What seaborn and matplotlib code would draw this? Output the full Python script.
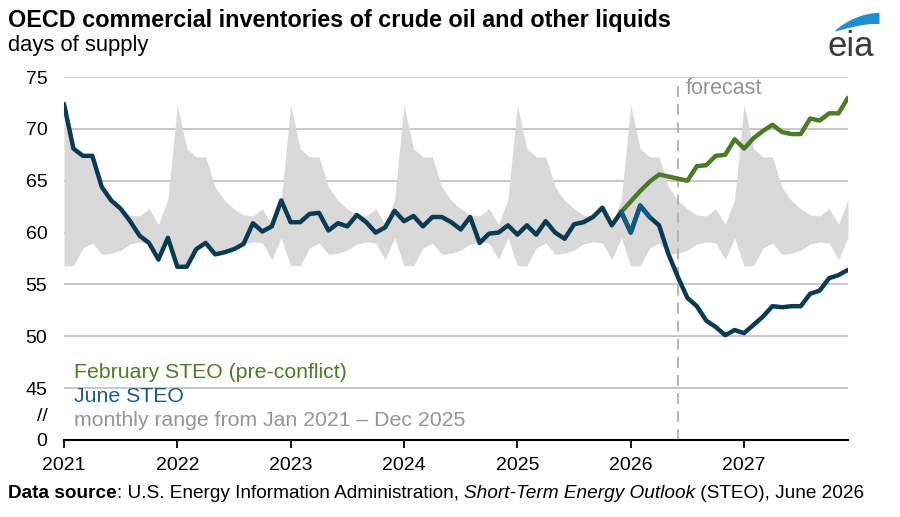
import numpy as np
import pandas as pd
import matplotlib
matplotlib.use("Agg")
import matplotlib.pyplot as plt
import seaborn as sns

# ---------------- data ----------------
years = [2021, 2022, 2023, 2024, 2025, 2026, 2027]
year_labels = ["2021", "2022", "2023", "2024", "2025", "2026", "2027"]

june_steo = [
    72.4, 68.1, 67.4, 67.4, 64.4, 63.1, 62.3, 61.1, 59.7, 59.0, 57.4, 59.5,  # 2021
    56.7, 56.7, 58.4, 59.0, 57.9, 58.1, 58.4, 58.9, 60.9, 60.1, 60.6, 63.1,  # 2022
    61.0, 61.0, 61.8, 61.9, 60.2, 60.9, 60.6, 61.7, 61.0, 60.0, 60.5, 62.1,  # 2023
    61.1, 61.6, 60.6, 61.5, 61.5, 61.0, 60.3, 61.5, 59.0, 59.9, 60.0, 60.7,  # 2024
    59.8, 60.7, 59.8, 61.1, 60.0, 59.4, 60.8, 61.0, 61.5, 62.4, 60.7, 62.0,  # 2025
    60.0, 62.6, 61.5, 60.7, 57.9, 55.7, 53.7, 52.9, 51.5, 50.9, 50.1, 50.6,  # 2026
    50.3, 51.1, 51.9, 52.9, 52.8, 52.9, 52.9, 54.1, 54.4, 55.6, 55.9, 56.4,  # 2027
]

# February STEO from Dec 2025 to Dec 2027
feb_start_index = 59
feb_steo = [62.0, 63.0, 64.0, 64.9, 65.6, 65.4, 65.2, 65.0, 66.4, 66.5, 67.4, 67.5,
            69.0, 68.1, 69.1, 69.8, 70.4, 69.7, 69.5, 69.5, 71.0, 70.8, 71.5, 71.5, 73.0]

# monthly range Jan 2021 - Dec 2025 (Jan..Dec)
range_max = [72.3, 68.1, 67.3, 67.3, 64.4, 63.1, 62.3, 61.7, 61.6, 62.3, 60.8, 63.2]
range_min = [56.8, 56.8, 58.5, 59.0, 57.9, 58.0, 58.3, 58.9, 59.1, 59.0, 57.4, 59.5]

forecast_start = (2026, 6)  # June 2026
light_segment = (59, 62)

y_ticks = [40, 42.5, 45, 50, 55, 60, 65, 70, 75]
y_tick_labels = ["0", "//", "45", "50", "55", "60", "65", "70", "75"]
grid_values = [45, 50, 55, 60, 65, 70, 75]

# ---------------- frame ----------------
n = len(june_steo)
xs = [years[0] + i / 12 for i in range(n)]
months_per_year = len(range_max)
band_hi = [range_max[i % months_per_year] for i in range(n)]
band_lo = [range_min[i % months_per_year] for i in range(n)]

df = pd.DataFrame({"x": xs, "june": june_steo, "hi": band_hi, "lo": band_lo})
df_feb = pd.DataFrame({"x": xs[feb_start_index:feb_start_index + len(feb_steo)], "feb": feb_steo})
df_light = df.iloc[light_segment[0]:light_segment[1] + 1]

# ---------------- style ----------------
sns.set_theme(style="white")
plt.rcParams["font.family"] = ["Liberation Sans", "DejaVu Sans"]
plt.rcParams["text.color"] = "black"

NAVY = "#0b3a53"
LIGHT_BLUE = "#0f5b82"
GREEN = "#4b7b26"
BAND = "#d9d9d9"
GRID = "#bfbfbf"
GRAYTXT = "#959595"

fig = plt.figure(figsize=(9, 5.17), dpi=100)
ax = fig.add_axes([0.0711, 0.149, 0.8711, 0.702])

ax.fill_between(df["x"], df["lo"], df["hi"], color=BAND, lw=0, zorder=1)
for g in grid_values:
    ax.axhline(g, color=GRID, lw=1.2, zorder=0.5)

sns.lineplot(data=df, x="x", y="june", color=NAVY, lw=3.2, ax=ax, zorder=4)
sns.lineplot(data=df_light, x="x", y="june", color=LIGHT_BLUE, lw=3.2, ax=ax, zorder=4.5)
sns.lineplot(data=df_feb, x="x", y="feb", color=GREEN, lw=3.2, ax=ax, zorder=3)

fx = forecast_start[0] + (forecast_start[1] - 1) / 12
ax.axvline(fx, ymin=0, ymax=0.985, color="#b0b0b0", lw=1.3, ls=(0, (6, 4)), zorder=2)
ax.text(fx + 0.07, 73.9, "forecast", color=GRAYTXT, fontsize=15.5, va="center", ha="left")

ax.set_xlim(xs[0], xs[-1])
ax.set_ylim(40, 75)
ax.set_xticks(years)
ax.set_xticklabels(year_labels, fontsize=14, color="black")
ax.set_yticks(y_ticks)
ax.set_yticklabels(y_tick_labels, fontsize=14, color="black")
ax.tick_params(axis="y", length=0, pad=12)
ax.tick_params(axis="x", length=6, width=1.3, color="black", direction="out", pad=6, bottom=True)
ax.set_xlabel("")
ax.set_ylabel("")
for s in ["top", "right", "left"]:
    ax.spines[s].set_visible(False)
ax.spines["bottom"].set_color("black")
ax.spines["bottom"].set_linewidth(1.5)

# legend-like labels
ax.text(2021.09, 46.5, "February STEO (pre-conflict)", color=GREEN, fontsize=15.3, va="center")
ax.text(2021.09, 44.2, "June STEO", color="#1f5a80", fontsize=15.3, va="center")
ax.text(2021.09, 41.9, "monthly range from Jan 2021 \u2013 Dec 2025", color=GRAYTXT, fontsize=15.3, va="center")

# titles
fig.text(8 / 900, 1 - 20 / 517, "OECD commercial inventories of crude oil and other liquids",
         fontsize=16.8, fontweight="bold", va="center", ha="left", color="black")
fig.text(8 / 900, 1 - 45 / 517, "days of supply", fontsize=15.8, va="center", ha="left", color="black")

# footer composed of pieces
fig.canvas.draw()
renderer = fig.canvas.get_renderer()
x_px = 8
y_frac = 1 - 494 / 517
pieces = [("Data source", "bold", "normal"), (": U.S. Energy Information Administration, ", "normal", "normal"),
          ("Short-Term Energy Outlook", "normal", "italic"), (" (STEO), June 2026", "normal", "normal")]
for txt, wt, st in pieces:
    t = fig.text(x_px / 900, y_frac, txt, fontsize=13.7, fontweight=wt, fontstyle=st,
                 va="center", ha="left", color="black")
    bb = t.get_window_extent(renderer=renderer)
    x_px += bb.width

# eia logo
fig.text(851 / 900, 1 - 46 / 517, "eia", fontsize=25, color="#3a3a3a", ha="center", va="center")
lax = fig.add_axes([828 / 900, 1 - 40 / 517, 52 / 900, 30 / 517])
lax.set_xlim(0, 1)
lax.set_ylim(0, 1)
lax.axis("off")
tt = np.linspace(0, 1, 60)
arc_x = 0.12 + 0.86 * tt
upper_y = 0.30 + 0.62 * np.sin(np.pi * tt * 0.5) ** 0.8
lower_y = 0.30 + 0.30 * np.sin(np.pi * tt * 0.5) ** 1.1 - 0.05 * tt
lax.fill_between(arc_x, lower_y, upper_y, color="#1e8fd2", lw=0)

fig.savefig("out.png", dpi=100)
